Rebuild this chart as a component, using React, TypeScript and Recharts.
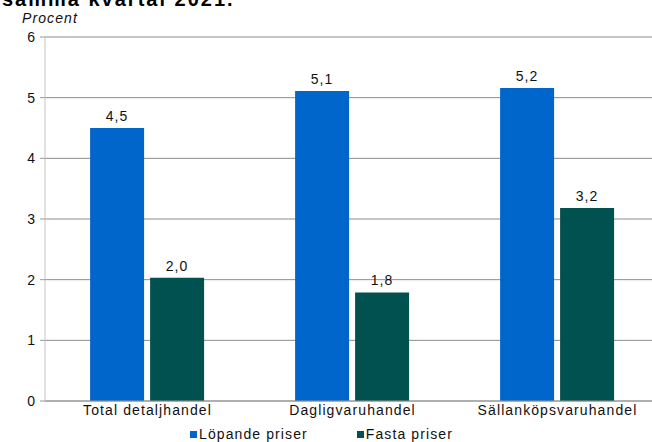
import React from 'react';
import { BarChart, Bar, XAxis, YAxis, CartesianGrid, LabelList, Legend } from 'recharts';

const categories = ['Total detaljhandel', 'Dagligvaruhandel', 'Sällanköpsvaruhandel'];
const lopande = [4.5, 5.11, 5.16];
const fasta = [2.03, 1.79, 3.18];
const yTicks = [0, 1, 2, 3, 4, 5, 6];
const edgeTicks = [0, 1, 2, 3];

const BLUE = '#0066cc';
const GREEN = '#00514f';
const FONT = '"Liberation Sans", Arial, sans-serif';
const LS = 1.1;

const data = categories.map((c, i) => ({ name: c, lopande: lopande[i], fasta: fasta[i], idx: i + 0.5 }));

const fmt = (v: any) => Number(v).toFixed(1).replace('.', ',');

const LegendContent = () => (
  <div style={{ display: 'flex', fontFamily: FONT, fontSize: 14, letterSpacing: LS, color: '#111', paddingLeft: 190 }}>
    <div style={{ display: 'flex', alignItems: 'center', marginRight: 49 }}>
      <span style={{ width: 7, height: 7, background: BLUE, display: 'inline-block', marginRight: 2 }} />
      <span>Löpande priser</span>
    </div>
    <div style={{ display: 'flex', alignItems: 'center' }}>
      <span style={{ width: 7, height: 7, background: GREEN, display: 'inline-block', marginRight: 2 }} />
      <span>Fasta priser</span>
    </div>
  </div>
);

export default function App() {
  return (
    <div style={{ position: 'absolute', left: 0, top: 0, width: 652, height: 442, overflow: 'hidden', background: '#fff' }}>
      <div style={{ position: 'absolute', left: 2, top: -10, lineHeight: '18px', fontFamily: FONT, fontWeight: 'bold', fontSize: 20, letterSpacing: 2, color: '#000', whiteSpace: 'nowrap' }}>
        samma kvartal 2021.
      </div>
      <div style={{ position: 'absolute', left: 22, top: 10, lineHeight: '16px', fontFamily: FONT, fontStyle: 'italic', fontSize: 14, letterSpacing: LS, color: '#111' }}>
        Procent
      </div>
      <BarChart
        width={660}
        height={442}
        data={data}
        margin={{ top: 37, right: 0, bottom: 0, left: 10 }}
        barCategoryGap="22%"
        barGap={6}
      >
        <CartesianGrid vertical={false} stroke="#8c8c8c" strokeWidth={1} />
        <XAxis
          xAxisId="edges"
          type="number"
          dataKey="idx"
          domain={[0, 3]}
          ticks={edgeTicks}
          tick={false}
          tickLine={{ stroke: '#999' }}
          tickSize={5}
          axisLine={false}
          height={0}
        />
        <XAxis
          dataKey="name"
          tickLine={false}
          tickSize={4}
          tickMargin={0}
          axisLine={{ stroke: '#999' }}
          tick={{ fontFamily: FONT, fontSize: 14, fill: '#111', letterSpacing: LS }}
          height={25}
        />
        <YAxis
          domain={[0, 6]}
          ticks={yTicks}
          width={35}
          tickSize={5}
          tickMargin={5}
          axisLine={{ stroke: '#c4c4c4' }}
          tickLine={{ stroke: '#999' }}
          tick={{ fontFamily: FONT, fontSize: 14, fill: '#111' }}
        />
        <Legend
          verticalAlign="bottom"
          align="left"
          wrapperStyle={{ position: 'absolute', top: 426, left: 0, width: 652 }}
          content={LegendContent}
        />
        <Bar dataKey="lopande" fill={BLUE} isAnimationActive={false}>
          <LabelList dataKey="lopande" position="top" offset={7} formatter={fmt} style={{ fontFamily: FONT, fontSize: 14, fill: '#111', letterSpacing: LS }} />
        </Bar>
        <Bar dataKey="fasta" fill={GREEN} isAnimationActive={false}>
          <LabelList dataKey="fasta" position="top" offset={7} formatter={fmt} style={{ fontFamily: FONT, fontSize: 14, fill: '#111', letterSpacing: LS }} />
        </Bar>
      </BarChart>
    </div>
  );
}
